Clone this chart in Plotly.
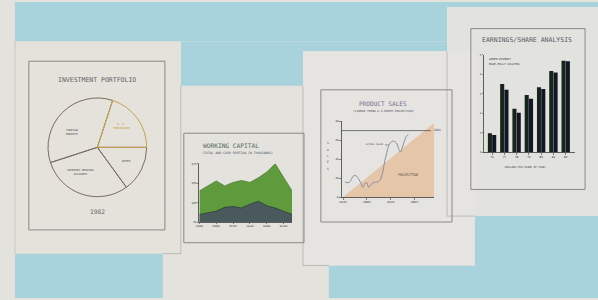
import plotly.graph_objects as go

W, H = 598, 300
def px(x):
    return x / W
def py(y):
    return 1 - y / H

FONT = "DejaVu Sans Mono"
BLUE = "#a9d3dc"
PAPER = "#e3e2dd"

# ---------------- data ----------------
# Investment portfolio (pie)
pie_labels = ["NOTES", "INTEREST-BEARING<br>ACCOUNTS", "FOREIGN<br>MARKETS", "U. S.<br>TREASURIES"]
pie_values = [15, 30, 35, 20]
pie_year = "1982"

# Working capital (area)
wc_months = [0, 1, 2, 3, 4, 5, 6, 7, 8, 9, 10, 11]
wc_total = [40, 46, 53, 46.5, 51, 53.5, 51, 57, 64.5, 75, 57, 40]
wc_cash = [9.7, 11.4, 14, 19, 20, 18, 23, 26.7, 21, 18, 14, 9.7]
wc_tickvals = [0, 2, 4, 6, 8, 10]
wc_ticktext = ["JAN82", "MAR82", "MAY82", "JUL82", "SEP82", "NOV82"]
wc_ytickvals = [0, 25, 50, 75]
wc_yticktext = ["$0", "$25", "$50", "$75"]

# Product sales (line + projection)
ps_months = [0.5, 1.0, 1.5, 2.0, 2.5, 3.0, 3.5, 4.0, 4.5, 5.0, 5.5, 6.0, 6.5, 7.0,
             7.5, 8.0, 8.5, 9.0, 9.5, 10.0, 10.5, 11.0, 11.5, 12.0, 12.5, 13.0,
             13.5, 14.0, 14.5, 15.0, 15.5, 16.0, 16.5]
ps_sales = [16, 15.5, 15.5, 18, 22, 23, 22, 19, 15, 10.5, 14.5, 15.5, 10.5, 12.5,
            15.5, 16, 16, 16.5, 19, 26, 37, 46, 54, 57.5, 59, 58.5,
            57, 51.5, 47.5, 52.5, 59, 64, 66]
ps_trend_months = [0, 23]
ps_trend_values = [0.5, 78]
ps_goal = 70
ps_goal_months = [-0.4, 22.2]
ps_tickvals = [0, 6, 12, 18]
ps_ticktext = ["JUL81", "JAN82", "JUL82", "JAN83"]
ps_ytickvals = [0, 20, 40, 60, 80]

# Earnings per share (bars)
es_years = [76, 77, 78, 79, 80, 81, 82]
es_primary = [0.99, 3.51, 2.24, 2.95, 3.34, 4.18, 4.70]
es_diluted = [0.89, 3.22, 2.04, 2.75, 3.25, 4.10, 4.68]
es_ticktext = ["76", "77", "78", "79", "80", "81", "82"]
es_ytickvals = [0, 1, 2, 3, 4, 5]

# ---------------- figure ----------------
fig = go.Figure()

fig.add_trace(go.Pie(
    labels=[l.replace("<br>", " ") for l in pie_labels], values=pie_values,
    sort=False, direction="clockwise", rotation=90,
    domain=dict(x=[px(44), px(144)], y=[py(197.3), py(97.3)]),
    marker=dict(colors=["rgba(0,0,0,0)"] * 4,
                line=dict(color=["#7a6d5e", "#7a6d5e", "#7a6d5e", "#c9a24f"], width=1)),
    textinfo="none", hoverinfo="skip", showlegend=False,
))

# working capital
fig.add_trace(go.Scatter(x=wc_months, y=wc_total, fill="tozeroy", mode="lines",
                         line=dict(color="#4f8034", width=0.8), fillcolor="#5f9b3d",
                         xaxis="x", yaxis="y", showlegend=False, hoverinfo="skip"))
fig.add_trace(go.Scatter(x=wc_months, y=wc_cash, fill="tozeroy", mode="lines",
                         line=dict(color="#2f3b3d", width=0.8), fillcolor="#4a595c",
                         xaxis="x", yaxis="y", showlegend=False, hoverinfo="skip"))

# product sales
fig.add_trace(go.Scatter(x=ps_trend_months, y=ps_trend_values, fill="tozeroy", mode="lines",
                         line=dict(width=0, color="#e5c6a9"), fillcolor="#e5c6a9",
                         xaxis="x2", yaxis="y2", showlegend=False, hoverinfo="skip"))
fig.add_trace(go.Scatter(x=ps_goal_months, y=[ps_goal, ps_goal], mode="lines",
                         line=dict(color="#55575c", width=0.8),
                         xaxis="x2", yaxis="y2", showlegend=False, hoverinfo="skip"))
fig.add_trace(go.Scatter(x=ps_months, y=ps_sales, mode="lines",
                         line=dict(color="#8a8ea0", width=1, shape="spline", smoothing=0.6),
                         xaxis="x2", yaxis="y2", showlegend=False, hoverinfo="skip"))

# earnings
fig.add_trace(go.Bar(x=es_years, y=es_primary, marker=dict(color="#16241b", line=dict(width=0)),
                     xaxis="x3", yaxis="y3", showlegend=False, hoverinfo="skip"))
fig.add_trace(go.Bar(x=es_years, y=es_diluted, marker=dict(color="#121726", line=dict(width=0)),
                     xaxis="x3", yaxis="y3", showlegend=False, hoverinfo="skip"))

# ---------------- sheets / frames ----------------
shapes = []
def rect(x0, y0, x1, y1, color, line=None, lw=0):
    d = dict(type="rect", xref="paper", yref="paper", x0=px(x0), x1=px(x1),
             y0=py(y1), y1=py(y0), fillcolor=color, layer="below",
             line=dict(width=lw, color=line or color))
    if color is None:
        d["fillcolor"] = "rgba(0,0,0,0)"
    shapes.append(d)
def line(x0, y0, x1, y1, color, w=1):
    shapes.append(dict(type="line", xref="paper", yref="paper", x0=px(x0), x1=px(x1),
                       y0=py(y0), y1=py(y1), layer="below", line=dict(color=color, width=w)))

# blue table areas
rect(11, 0, 446, 40, BLUE)
rect(178, 40, 301, 85, BLUE)
rect(301, 40, 446, 50, BLUE)
rect(446, 0, 598, 5, BLUE)
rect(11, 255, 160, 300, BLUE)
rect(327, 267, 598, 300, BLUE)
rect(474, 217, 598, 300, BLUE)
# sheet tints
rect(11, 40, 178, 255, "#e4e2db")
rect(446, 5, 598, 217, "#e2e2de")
rect(301, 50, 474, 267, "#e5e4e0")
# faint sheet edges
edge = "rgba(140,140,135,0.45)"
line(178, 85, 178, 255, edge)
line(160, 255, 178, 255, edge)
line(301, 85, 301, 267, edge)
line(301, 267, 327, 267, edge)
line(446, 50, 446, 217, edge)
line(446, 217, 474, 217, edge)
line(11, 40, 11, 255, "rgba(140,140,135,0.3)")
# chart frames
fr = "#7f7f7b"
rect(25, 60, 162, 231, None, fr, 0.9)
rect(181, 133, 302, 244, None, fr, 0.9)
rect(319, 89, 451, 223, None, fr, 0.9)
rect(470, 27, 585, 190, None, fr, 0.9)

# ---------------- annotations ----------------
ann = []
def text(x, y, t, size, color="#444444", xanchor="center"):
    ann.append(dict(xref="paper", yref="paper", x=px(x), y=py(y), text=t, showarrow=False,
                    xanchor=xanchor, yanchor="middle",
                    font=dict(family=FONT, size=size, color=color)))

text(94, 79.3, "INVESTMENT PORTFOLIO", 6.5, "#5d5f63")
text(94, 212.7, pie_year, 6.2, "#5d5f63")
pie_label_pos = [(123.3, 160.7), (77.3, 172), (68.3, 131.3), (118.3, 125.5)]
pie_label_col = ["#4a4a48", "#4a4a48", "#4a4a48", "#c8922e"]
for lab, (lx, ly), c in zip(pie_labels, pie_label_pos, pie_label_col):
    text(lx, ly, lab, 2.8, c)

text(228.3, 145.3, "WORKING CAPITAL", 6.2, "#4f6a55")
text(235, 153, "(TOTAL AND CASH PORTION IN THOUSANDS)", 3.2, "#4a5560")

text(381.3, 103.3, "PRODUCT SALES", 6.1, "#7a6f92")
text(381.9, 110, "(LINEAR TREND & 3-MONTH PROJECTION)", 2.9, "#4a4a55")
text(431, 129.3, "GOAL", 3, "#4a4a55", "left")
text(407, 175.7, "PROJECTION", 3.3, "#5a4a40")
for i, ch in enumerate("SALES"):
    text(326.3, 143 + i * 6.5, ch, 3, "#4a4a55")
ann.append(dict(xref="x2", yref="y2", x=11.5, y=55, text="ACTUAL SALES", showarrow=True,
                ax=-14, ay=0, arrowhead=0, arrowwidth=0.6, arrowcolor="#55575c",
                font=dict(family=FONT, size=2.4, color="#4a4a55")))

text(526.7, 38.7, "EARNINGS/SHARE ANALYSIS", 6.5, "#5a5664")
text(486.7, 58, "GREEN—PRIMARY", 2.8, "#3a3a3a", "left")
text(486.7, 63.3, "BLUE—FULLY DILUTED", 2.8, "#3a3a3a", "left")
text(525, 168, "(DOLLARS PER SHARE BY YEAR)", 2.6, "#3a3a3a")

axis_common = dict(showgrid=False, zeroline=False, showline=True, linecolor="#3d3d3d",
                   linewidth=0.8, ticks="outside", ticklen=1.5, tickwidth=0.6,
                   tickcolor="#3d3d3d", fixedrange=True)

fig.update_layout(
    width=W, height=H, margin=dict(l=0, r=0, t=0, b=0),
    paper_bgcolor=PAPER, plot_bgcolor="rgba(0,0,0,0)",
    barmode="group", bargap=0.3, bargroupgap=0.05,
    shapes=shapes, annotations=ann,
    xaxis=dict(domain=[px(196.7), px(290)], range=[0, 11], anchor="y",
               tickvals=wc_tickvals, ticktext=wc_ticktext,
               tickfont=dict(family=FONT, size=2.5, color="#333"), **axis_common),
    yaxis=dict(domain=[py(223), py(164)], range=[0, 75], anchor="x",
               tickvals=wc_ytickvals, ticktext=wc_yticktext,
               tickfont=dict(family=FONT, size=2.8, color="#333"), **axis_common),
    xaxis2=dict(domain=[px(339.7), px(433)], range=[-0.4, 23], anchor="y2",
                tickvals=ps_tickvals, ticktext=ps_ticktext,
                tickfont=dict(family=FONT, size=2.6, color="#333"), **axis_common),
    yaxis2=dict(domain=[py(198), py(120.7)], range=[0, 80], anchor="x2",
                tickvals=ps_ytickvals,
                tickfont=dict(family=FONT, size=2.6, color="#333"), **axis_common),
    xaxis3=dict(domain=[px(483.3), px(575)], range=[75.35, 82.77], anchor="y3",
                tickvals=es_years, ticktext=es_ticktext,
                tickfont=dict(family=FONT, size=2.8, color="#333"), **axis_common),
    yaxis3=dict(domain=[py(152.5), py(53.7)], range=[0, 5], anchor="x3",
                tickvals=es_ytickvals,
                tickfont=dict(family=FONT, size=2.6, color="#333"), **axis_common),
)

fig.write_html("out.html", config={"displayModeBar": False, "staticPlot": True},
               post_script="document.body.style.margin='0';document.body.style.overflow='hidden';")
